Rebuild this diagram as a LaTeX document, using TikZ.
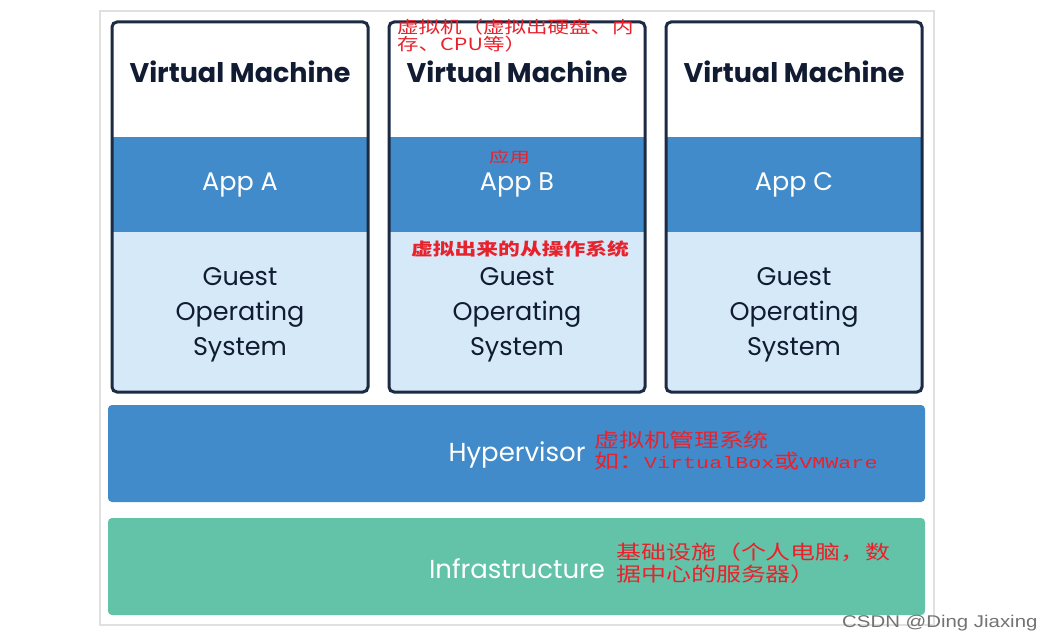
\documentclass[tikz,border=0pt]{standalone}
\usepackage{fontspec}
\setmainfont{Poppins}
\newfontfamily\pop{Poppins}
\newfontfamily\cjk[FakeStretch=1.28]{Noto Sans CJK SC}
\newfontfamily\cjkn[FakeStretch=1.4]{Noto Sans CJK SC}
\newfontfamily\wmfont[FakeStretch=1.2]{Liberation Sans}
\newfontfamily\monolat[FakeStretch=1.3]{Liberation Mono}
\definecolor{appblue}{HTML}{418BCA}
\definecolor{osblue}{HTML}{D5E9F8}
\definecolor{vmborder}{HTML}{1C2A44}
\definecolor{navytext}{HTML}{111C33}
\definecolor{teal}{HTML}{63C3A8}
\definecolor{annred}{HTML}{E8222C}
\tikzset{
  vmtitle/.style={font=\pop\bfseries\fontsize{27}{30}\selectfont, text=navytext, inner sep=0},
  apptext/.style={font=\pop\fontsize{25.5}{28}\selectfont, text=white, inner sep=0},
  ostext/.style={font=\pop\fontsize{25.5}{35}\selectfont, text=navytext, align=center, inner sep=0},
  bartext/.style={font=\pop\fontsize{26}{28}\selectfont, text=white, inner sep=0},
  ann/.style={text=annred, align=left, inner sep=0, anchor=north west},
}
\begin{document}
\begin{tikzpicture}[x=1pt,y=-1pt]
\useasboundingbox (0,0) rectangle (1048,642);
\fill[white] (0,0) rectangle (1048,642);
\draw[black!12, line width=1.5] (100,11) rectangle (934,625);
% hypervisor and infrastructure
\fill[appblue, rounded corners=4] (108,405) rectangle (925,502);
\fill[teal, rounded corners=4] (108,518) rectangle (925,615);
\node[bartext] (hyp) at (517,455) {Hypervisor};
\node[bartext] (infra) at (517,569) {Infrastructure};
% VMs
\foreach \x/\n/\l in {112/a/A, 389/b/B, 666/c/C}{
  \fill[white] (\x,22) rectangle ++(256,115);
  \fill[appblue] (\x,137) rectangle ++(256,95);
  \fill[osblue] (\x,232) rectangle ++(256,160);
  \draw[vmborder, line width=3, rounded corners=5] (\x,22) rectangle ++(256,370);
  \node[vmtitle] (vm\n) at (\x+128,72) {Virtual Machine};
  \node[apptext] (app\n) at (\x+128,185) {App \l};
  \node[ostext] (os\n) at (\x+128,315) {Guest\\Operating\\System};
}
% annotations
\node[ann, font=\cjk\fontsize{16.8}{17}\selectfont] (n1) at (397,19) {虚拟机（虚拟出硬盘、内\\存、CPU等）};
\node[ann, font=\cjkn\fontsize{14.5}{16}\selectfont] (n2) at (489,150) {应用};
\node[ann, font=\cjk\bfseries\fontsize{17}{18}\selectfont] (n3) at (411,241) {虚拟出来的从操作系统};
\node[ann, font=\cjk\fontsize{19.5}{21}\selectfont] (n4) at (594,431) {虚拟机管理系统\\如：{\monolat\fontsize{16.7}{21}\selectfont VirtualBox}或{\monolat\fontsize{16.7}{21}\selectfont VMWare}};
\node[ann, font=\cjk\fontsize{19.5}{22}\selectfont] (n5) at (616,543) {基础设施（个人电脑，数\\据中心的服务器）};
% watermark
\node[font=\wmfont\fontsize{17}{18}\selectfont, text=black!55, anchor=west, inner sep=0] (wm) at (842,623) {CSDN @Ding Jiaxing};
\end{tikzpicture}
\end{document}
